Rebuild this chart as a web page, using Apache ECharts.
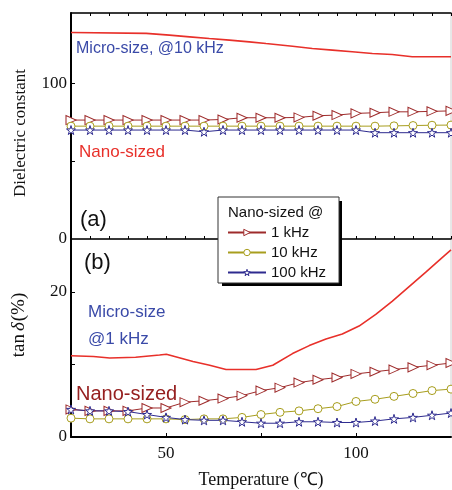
<!DOCTYPE html>
<html>
<head>
<meta charset="utf-8">
<script src="https://cdn.jsdelivr.net/npm/echarts@6.0.0/dist/echarts.min.js"></script>
<style>
  html, body { margin: 0; padding: 0; background: #fff; }
  #chart { width: 452px; height: 490px; }
</style>
</head>
<body>
<div id="chart"></div>
<script>
// measurement temperatures of the marker series (°C)
const temps = [25, 30, 35, 40, 45, 50, 55, 60, 65, 70, 75, 80, 85, 90, 95, 100, 105, 110, 115, 120, 125];

// (a) dielectric constant, nano-sized
const eps1k = [76.3, 76.3, 76.3, 76.3, 76.3, 76.3, 76.3, 76.3, 76.7, 77.8, 77.8, 77.8, 78.0, 79.1, 79.5, 80.6, 81.0, 81.6, 81.6, 81.9, 82.2];
const eps10k = [72.4, 72.4, 72.4, 72.4, 72.4, 72.4, 72.4, 72.4, 72.4, 72.4, 72.4, 72.4, 72.4, 72.4, 72.4, 72.4, 72.4, 72.6, 72.8, 73.0, 73.1];
const eps100k = [69.9, 69.9, 69.9, 69.9, 69.9, 69.9, 69.9, 68.8, 69.9, 69.9, 69.9, 69.9, 69.9, 69.9, 69.9, 69.9, 68.2, 68.2, 68.2, 68.2, 68.2];

// (a) micro-size @10 kHz, continuous trace
const epsMicroT = [25, 44.8, 50.9, 56.2, 61.4, 66.7, 71.9, 76.3, 83.3, 88.5, 93.8, 99, 104.3, 109.5, 114.8, 125];
const epsMicro = [132.5, 131.9, 130.8, 129.7, 128.6, 127.6, 126.5, 125.4, 123.7, 122.2, 121.2, 120.1, 119.0, 118.4, 116.9, 116.9];

// (b) tan delta (%), nano-sized
const tan1k = [3.8, 3.6, 3.6, 3.6, 4.0, 4.0, 4.8, 5.0, 5.3, 5.7, 6.4, 6.8, 7.5, 7.9, 8.2, 8.7, 9.0, 9.3, 9.6, 9.9, 10.2];
const tan10k = [2.6, 2.5, 2.5, 2.5, 2.5, 2.5, 2.4, 2.5, 2.5, 2.7, 3.1, 3.4, 3.6, 3.9, 4.2, 4.9, 5.2, 5.6, 6.0, 6.4, 6.6];
const tan100k = [3.8, 3.6, 3.6, 3.5, 3.1, 2.7, 2.4, 2.3, 2.3, 2.1, 1.9, 1.9, 2.1, 2.1, 2.0, 2.0, 2.2, 2.5, 2.7, 3.0, 3.3];

// (b) micro-size @1 kHz
const tanMicroT = [25, 30.9, 35.2, 42, 48.3, 50.1, 53, 57.1, 61.5, 65.8, 73.7, 78.1, 83.3, 87.7, 92.1, 96.4, 100.8, 105.2, 109.5, 113.9, 118.3, 122.6, 125];
const tanMicro = [11.2, 11.1, 10.9, 11.0, 11.3, 11.4, 11.0, 10.4, 9.9, 9.3, 9.3, 9.9, 11.5, 12.6, 13.5, 14.2, 15.3, 16.9, 18.7, 20.7, 22.7, 24.7, 25.8];

const freqNames = ['1 kHz', '10 kHz', '100 kHz'];

const SANS = 'Liberation Sans, Arial, sans-serif';
const SERIF = 'Liberation Serif, Times New Roman, serif';
const RED = '#e8302a';
const BLUE = '#3a4aa8';
const colors = ['#9e2b2b', '#a89e1e', '#2e2b8f'];
const STAR = 'path://M50,0 L61,35 L98,35 L68,57 L79,91 L50,70 L21,91 L32,57 L2,35 L39,35 Z';
const symbols = [
    { symbol: 'triangle', size: [9, 10], rotate: -90 },
    { symbol: 'circle', size: 8, rotate: 0 },
    { symbol: STAR, size: 9, rotate: 0 }
];

const pairs = (xs, ys) => xs.map((x, i) => [x, ys[i]]);
const hollow = (i) => ({ color: '#fff', borderColor: colors[i], borderWidth: 1 });

function freqSeries(idx, values, panel) {
    const s = symbols[idx];
    return {
        name: freqNames[idx],
        type: 'line',
        xAxisIndex: panel === 0 ? 0 : 2,
        yAxisIndex: panel,
        data: pairs(temps, values),
        symbol: s.symbol,
        symbolSize: s.size,
        symbolRotate: s.rotate,
        showSymbol: true,
        lineStyle: { color: colors[idx], width: 1 },
        itemStyle: hollow(idx),
        animation: false
    };
}

function microSeries(xs, ys, panel) {
    return {
        name: 'micro',
        type: 'line',
        xAxisIndex: panel === 0 ? 0 : 2,
        yAxisIndex: panel,
        data: pairs(xs, ys),
        showSymbol: false,
        lineStyle: { color: RED, width: 1.6 },
        animation: false
    };
}

const tickLabel = { fontFamily: SERIF, fontSize: 17, color: '#111' };

const chart = echarts.init(document.getElementById('chart'));
chart.setOption({
    backgroundColor: '#fff',
    animation: false,
    grid: [
        { left: 71, top: 13, width: 380, height: 226, show: true, borderColor: '#d0d0d0', borderWidth: 1 },
        { left: 71, top: 239, width: 380, height: 203, show: true, borderColor: '#d0d0d0', borderWidth: 1 }
    ],
    xAxis: [
        {
            gridIndex: 0, type: 'value', min: 25, max: 125, interval: 5,
            axisLine: { lineStyle: { color: '#000', width: 1.5 } },
            axisTick: { inside: true, length: 3, lineStyle: { color: '#000' } },
            axisLabel: { show: false }, splitLine: { show: false }
        },
        {
            gridIndex: 0, type: 'value', position: 'top', min: 25, max: 125, interval: 5,
            axisLine: { lineStyle: { color: '#000', width: 1.5 } },
            axisTick: { inside: true, length: 3, lineStyle: { color: '#000' } },
            axisLabel: { show: false }, splitLine: { show: false }
        },
        {
            gridIndex: 1, type: 'value', min: 25, max: 125, interval: 25,
            axisLine: { lineStyle: { color: '#000', width: 2 } },
            axisTick: { inside: true, length: 4, customValues: [50, 75, 100], lineStyle: { color: '#000' } },
            axisLabel: { customValues: [50, 100], margin: 8, ...tickLabel },
            splitLine: { show: false },
            name: 'Temperature (℃)', nameLocation: 'middle', nameGap: 34,
            nameTextStyle: { fontFamily: SERIF, fontSize: 18, color: '#111' }
        }
    ],
    yAxis: [
        {
            gridIndex: 0, type: 'value', min: 0, max: 145, interval: 50,
            axisLine: { lineStyle: { color: '#000', width: 2 } },
            axisTick: { inside: true, length: 4, customValues: [50, 100], lineStyle: { color: '#000' } },
            axisLabel: { customValues: [0, 100], margin: 4, ...tickLabel },
            splitLine: { show: false }
        },
        {
            gridIndex: 1, type: 'value', min: 0, max: 27.3, interval: 10,
            axisLine: { lineStyle: { color: '#000', width: 2 } },
            axisTick: { inside: true, length: 4, customValues: [10, 20], lineStyle: { color: '#000' } },
            axisLabel: { customValues: [0, 20], margin: 4, ...tickLabel },
            splitLine: { show: false }
        }
    ],
    legend: {
        data: freqNames.map((name, i) => ({ name, itemStyle: hollow(i) })),
        orient: 'vertical',
        left: 218, top: 197,
        padding: [28, 13, 3, 9],
        itemWidth: 38, itemHeight: 8, itemGap: 5,
        backgroundColor: '#fff',
        borderColor: '#333', borderWidth: 1,
        textStyle: { fontFamily: SANS, fontSize: 15, color: '#111' },
        z: 10
    },
    graphic: [
        // legend drop shadow and heading
        { type: 'rect', z: 9, silent: true, shape: { x: 222, y: 201, width: 120, height: 85 }, style: { fill: '#000' } },
        { type: 'text', left: 228, top: 205, z: 20, style: { text: 'Nano-sized @', fill: '#111', font: '15px ' + SANS } },
        // y-axis titles
        { type: 'text', x: 21, y: 133, rotation: Math.PI / 2,
          style: { text: 'Dielectric constant', fill: '#111', font: '17px ' + SERIF, align: 'center', verticalAlign: 'middle' } },
        { type: 'text', x: 19, y: 325, rotation: Math.PI / 2,
          style: { text: 'tan{i|δ}(%)', fill: '#111', font: '19px ' + SERIF, align: 'center', verticalAlign: 'middle',
                   rich: { i: { fontStyle: 'italic', fontFamily: SERIF, fontSize: 19, fill: '#111', padding: [0, 1, 0, 3] } } } },
        // annotations
        { type: 'text', left: 76, top: 41, style: { text: 'Micro-size, @10 kHz', fill: BLUE, font: '16px ' + SANS } },
        { type: 'text', left: 79, top: 144, style: { text: 'Nano-sized', fill: RED, font: '17px ' + SANS } },
        { type: 'text', left: 80, top: 209, style: { text: '(a)', fill: '#111', font: '22px ' + SANS } },
        { type: 'text', left: 84, top: 252, style: { text: '(b)', fill: '#111', font: '22px ' + SANS } },
        { type: 'text', left: 88, top: 304, style: { text: 'Micro-size', fill: BLUE, font: '17px ' + SANS } },
        { type: 'text', left: 88, top: 331, style: { text: '@1 kHz', fill: BLUE, font: '17px ' + SANS } },
        { type: 'text', left: 76, top: 384, style: { text: 'Nano-sized', fill: '#962020', font: '20px ' + SANS } }
    ],
    series: [
        microSeries(epsMicroT, epsMicro, 0),
        freqSeries(0, eps1k, 0),
        freqSeries(1, eps10k, 0),
        freqSeries(2, eps100k, 0),
        microSeries(tanMicroT, tanMicro, 1),
        freqSeries(0, tan1k, 1),
        freqSeries(1, tan10k, 1),
        freqSeries(2, tan100k, 1)
    ]
});
</script>
</body>
</html>
